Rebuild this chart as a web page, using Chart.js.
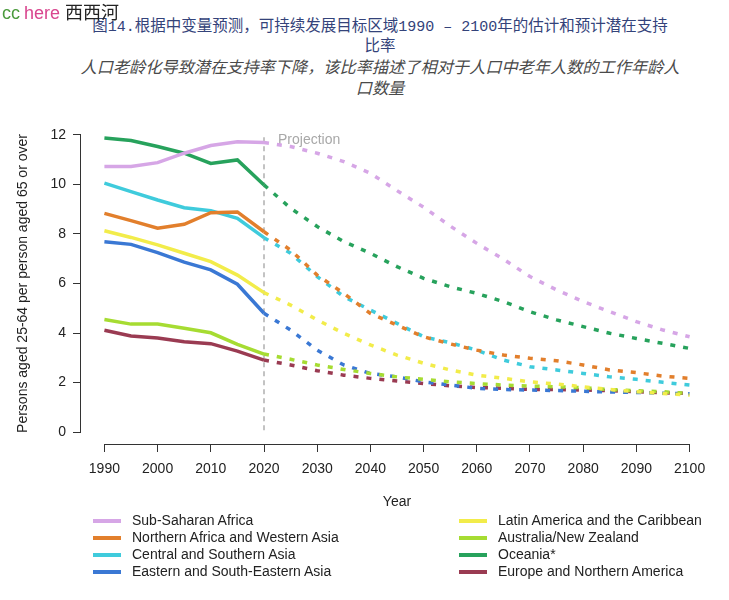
<!DOCTYPE html>
<html>
<head>
<meta charset="utf-8">
<script src="https://cdn.jsdelivr.net/npm/chart.js@4"></script>
<style>
  html, body { margin: 0; padding: 0; background: #fff; }
  body { width: 729px; height: 600px; position: relative; overflow: hidden; font-family: "Liberation Sans", Arial, sans-serif; }
  #chart { position: absolute; left: 0; top: 0; }
  .mark { position: absolute; left: 2px; top: -2px; font-size: 18px; font-family: "Liberation Sans", "Noto Sans CJK SC", sans-serif; white-space: nowrap; z-index: 2; }
  .mark .cc { color: #4a9a3c; }
  .mark .here { color: #d9468f; margin-left: 4px; }
  .mark .site { color: #222; margin-left: 5px; }
  .title { position: absolute; left: 0; width: 698px; padding-left: 31px; top: 14px; text-align: center; color: #34437a; font-size: 15.5px; line-height: 20px; font-family: "Noto Sans CJK SC", sans-serif; }
  .title .num { font-family: "Liberation Mono", monospace; font-size: 15px; line-height: 0; }
  .subtitle { position: absolute; left: 0; width: 698px; padding-left: 31px; top: 56px; text-align: center; color: #4a4a4a; font-size: 16.2px; line-height: 21px; font-style: italic; font-family: "Noto Sans CJK SC", sans-serif; }
  #legend { position: absolute; left: 0; top: 512px; width: 729px; height: 80px; font-size: 14px; color: #222; }
  .item { position: absolute; height: 17px; line-height: 17px; white-space: nowrap; }
  .item .swatch { position: absolute; left: 0; top: 7px; width: 28px; height: 4px; }
  .item .label { position: absolute; left: 39px; top: 0; }
</style>
</head>
<body>
<div class="mark"><span class="cc">cc</span><span class="here">here</span><span class="site">西西河</span></div>
<div class="title">图<span class="num">14.</span>根据中变量预测，可持续发展目标区域<span class="num">1990 – 2100</span>年的估计和预计潜在支持<br>比率</div>
<div class="subtitle">人口老龄化导致潜在支持率下降，该比率描述了相对于人口中老年人数的工作年龄人<br>口数量</div>
<canvas id="chart" width="729" height="600"></canvas>
<div id="legend"></div>
<script>
// 5-year steps, 1990-2020 estimates, 2020-2100 projections
const years = [1990, 1995, 2000, 2005, 2010, 2015, 2020, 2025, 2030, 2035, 2040, 2045,
  2050, 2055, 2060, 2065, 2070, 2075, 2080, 2085, 2090, 2095, 2100];
const xTicks = [1990, 2000, 2010, 2020, 2030, 2040, 2050, 2060, 2070, 2080, 2090, 2100];
const yTicks = [0, 2, 4, 6, 8, 10, 12];
const projectionStart = 2020;

const regions = [
  'Sub-Saharan Africa',
  'Northern Africa and Western Asia',
  'Central and Southern Asia',
  'Eastern and South-Eastern Asia',
  'Latin America and the Caribbean',
  'Australia/New Zealand',
  'Oceania*',
  'Europe and Northern America',
];

const colors = ['#d6a6e6', '#e27f2c', '#3fcbdc', '#3a78d4', '#f2ec4a', '#a6dc32', '#27a25c', '#9a3b52'];

const subSaharan = [10.72, 10.72, 10.88, 11.26, 11.57, 11.72, 11.69, 11.53, 11.26, 10.92, 10.45, 9.75,
  9.08, 8.32, 7.62, 6.98, 6.28, 5.74, 5.27, 4.86, 4.46, 4.12, 3.85];
const northAfrica = [8.83, 8.54, 8.23, 8.39, 8.86, 8.89, 8.09, 7.35, 6.34, 5.60, 4.79, 4.32,
  3.85, 3.56, 3.31, 3.11, 2.98, 2.88, 2.71, 2.51, 2.40, 2.26, 2.17];
const centralAsia = [10.05, 9.71, 9.37, 9.06, 8.94, 8.63, 7.85, 7.22, 6.28, 5.47, 4.93, 4.39,
  3.85, 3.61, 3.31, 2.91, 2.64, 2.51, 2.37, 2.23, 2.13, 2.01, 1.90];
const eastAsia = [7.69, 7.58, 7.25, 6.86, 6.55, 5.97, 4.80, 4.12, 3.31, 2.71, 2.37, 2.23,
  2.03, 1.90, 1.77, 1.72, 1.70, 1.68, 1.65, 1.62, 1.60, 1.57, 1.55];
const latinAmerica = [8.13, 7.86, 7.56, 7.22, 6.88, 6.34, 5.63, 5.13, 4.53, 3.99, 3.52, 3.11,
  2.78, 2.51, 2.30, 2.17, 2.03, 1.94, 1.83, 1.72, 1.63, 1.56, 1.49];
const australiaNz = [4.55, 4.36, 4.36, 4.19, 4.01, 3.54, 3.15, 2.94, 2.71, 2.53, 2.37, 2.23,
  2.13, 2.03, 1.96, 1.90, 1.86, 1.83, 1.79, 1.72, 1.67, 1.63, 1.56];
const oceania = [11.87, 11.77, 11.53, 11.26, 10.85, 10.99, 9.98, 9.04, 8.30, 7.69, 7.22, 6.68,
  6.21, 5.87, 5.60, 5.27, 4.86, 4.53, 4.26, 3.99, 3.78, 3.58, 3.38];
const europeNa = [4.11, 3.88, 3.80, 3.65, 3.57, 3.27, 2.91, 2.71, 2.48, 2.30, 2.17, 2.06,
  1.96, 1.87, 1.80, 1.77, 1.72, 1.72, 1.70, 1.67, 1.63, 1.59, 1.56];

const seriesValues = [subSaharan, northAfrica, centralAsia, eastAsia, latinAmerica, australiaNz, oceania, europeNa];
// draw order: lower value is drawn on top
const drawOrder = [3, 4, 5, 6, 1, 2, 7, 8];

const axisFont = { family: '"Liberation Sans", Arial, sans-serif', size: 14 };

const datasets = regions.map((name, i) => ({
  label: name,
  data: years.map((year, j) => ({ x: year, y: seriesValues[i][j] })),
  borderColor: colors[i],
  backgroundColor: colors[i],
  borderWidth: 3.5,
  pointRadius: 0,
  tension: 0,
  order: drawOrder[i],
  segment: {
    borderDash: (ctx) => (ctx.p0.parsed.x >= projectionStart ? [5, 8] : undefined),
  },
}));

// R style axis lines plus the projection marker
const extrasPlugin = {
  id: 'extras',
  beforeDatasetsDraw(chart) {
    const { ctx, chartArea, scales } = chart;
    const x = scales.x;
    const y = scales.y;
    const px = x.getPixelForValue(projectionStart);
    ctx.save();
    ctx.strokeStyle = '#b0b0b0';
    ctx.lineWidth = 1.5;
    ctx.setLineDash([5, 4]);
    ctx.beginPath();
    ctx.moveTo(px, y.getPixelForValue(11.9));
    ctx.lineTo(px, y.getPixelForValue(0));
    ctx.stroke();
    ctx.setLineDash([]);
    ctx.fillStyle = '#a8a8a8';
    ctx.font = '14px "Liberation Sans", Arial, sans-serif';
    ctx.textBaseline = 'middle';
    ctx.fillText('Projection', px + 14, y.getPixelForValue(11.8));

    ctx.strokeStyle = '#333';
    ctx.lineWidth = 1;
    ctx.beginPath();
    ctx.moveTo(x.getPixelForValue(xTicks[0]), chartArea.bottom + 0.5);
    ctx.lineTo(x.getPixelForValue(xTicks[xTicks.length - 1]), chartArea.bottom + 0.5);
    ctx.moveTo(chartArea.left - 0.5, y.getPixelForValue(yTicks[0]));
    ctx.lineTo(chartArea.left - 0.5, y.getPixelForValue(yTicks[yTicks.length - 1]));
    ctx.stroke();
    ctx.restore();
  },
};

const chart = new Chart(document.getElementById('chart'), {
  type: 'line',
  data: { datasets },
  plugins: [extrasPlugin],
  options: {
    responsive: false,
    animation: false,
    layout: { padding: { left: 0, top: 123, right: 16, bottom: 88 } },
    scales: {
      x: {
        type: 'linear',
        min: 1985.6,
        max: 2104.4,
        afterBuildTicks: (scale) => { scale.ticks = xTicks.map((v) => ({ value: v })); },
        afterFit: (scale) => { scale.height = 68; },
        grid: { drawOnChartArea: false, drawTicks: true, tickLength: 8, color: '#333' },
        border: { display: false },
        ticks: { color: '#222', font: axisFont, padding: 9, maxRotation: 0, callback: (v) => String(v) },
        title: { display: true, text: 'Year', color: '#222', font: axisFont, padding: { top: 0, bottom: 1 } },
      },
      y: {
        min: -0.48,
        max: 12.48,
        afterBuildTicks: (scale) => { scale.ticks = yTicks.map((v) => ({ value: v })); },
        afterFit: (scale) => { scale.width = 81; },
        grid: { drawOnChartArea: false, drawTicks: true, tickLength: 8, color: '#333' },
        border: { display: false },
        ticks: { color: '#222', font: axisFont, padding: 7 },
        title: { display: true, text: 'Persons aged 25-64 per person aged 65 or over', color: '#222', font: axisFont, padding: { top: 15, bottom: 0 } },
      },
    },
    plugins: {
      legend: { display: false },
      tooltip: { enabled: false },
    },
  },
});

// two column legend like the original
const legendEl = document.getElementById('legend');
chart.data.datasets.forEach((ds, i) => {
  const col = i < 4 ? 0 : 1;
  const row = i % 4;
  const item = document.createElement('div');
  item.className = 'item';
  item.style.left = (col === 0 ? 93 : 459) + 'px';
  item.style.top = (row * 17) + 'px';
  item.innerHTML = '<span class="swatch" style="background:' + ds.borderColor + '"></span><span class="label"></span>';
  item.querySelector('.label').textContent = ds.label;
  legendEl.appendChild(item);
});
</script>
</body>
</html>
